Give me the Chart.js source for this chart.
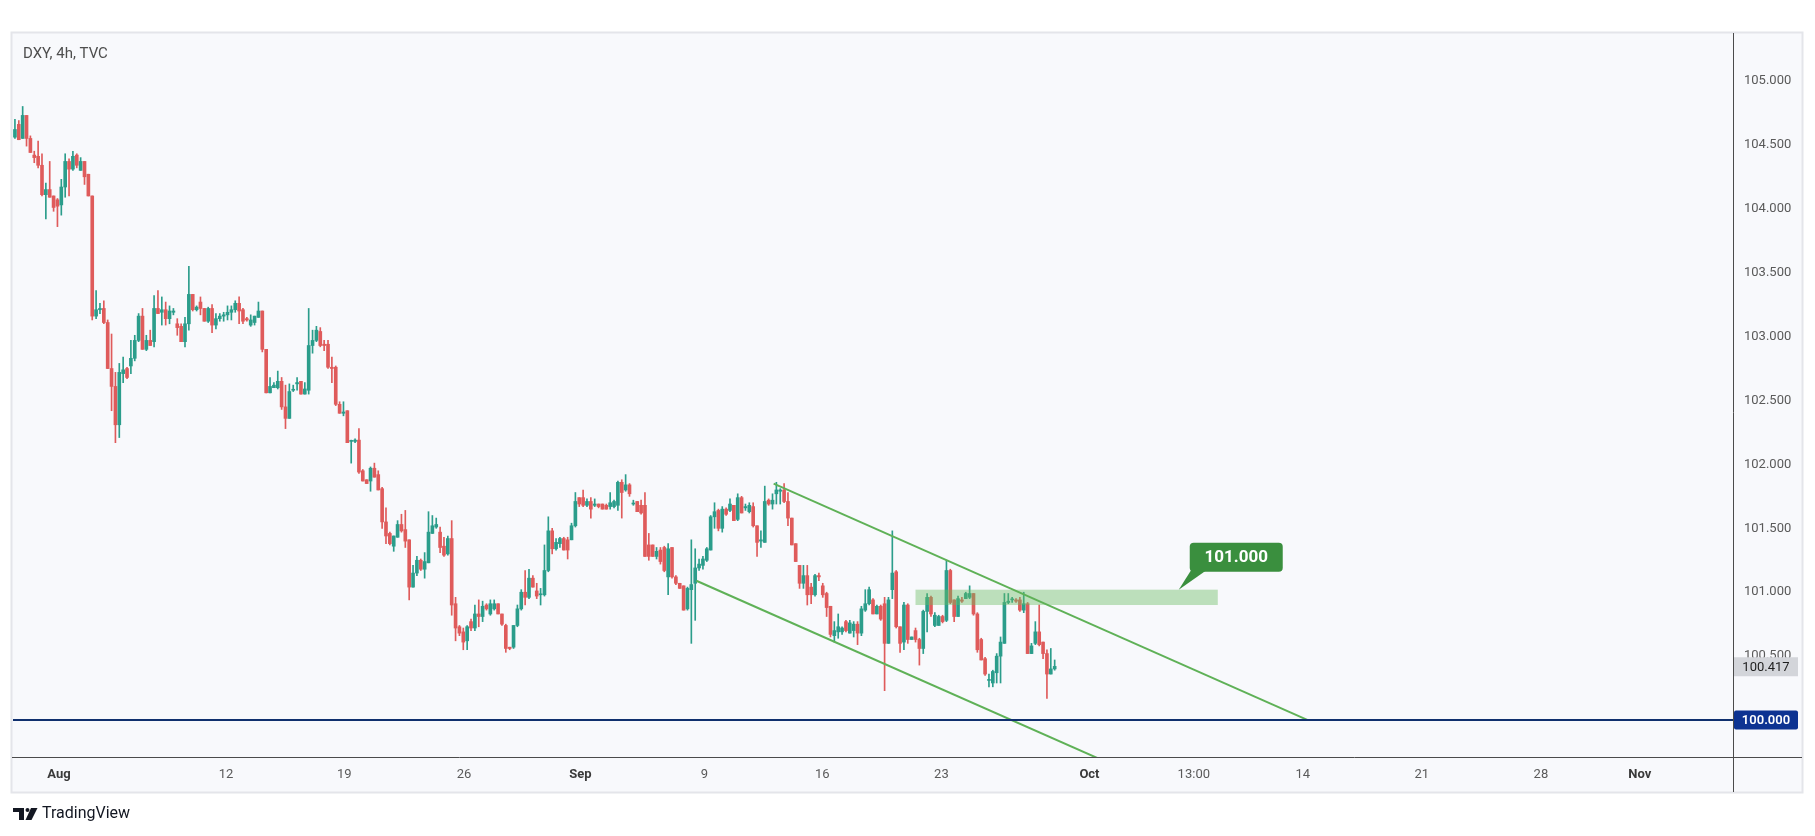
<!DOCTYPE html>
<html><head><meta charset="utf-8">
<script src="https://cdn.jsdelivr.net/npm/chart.js@4.4.1/dist/chart.umd.min.js"></script>
<style>html,body{margin:0;padding:0;background:#fff;overflow:hidden}#wrap{width:1815px;height:836px;position:relative}</style>
</head><body><div id="wrap"><canvas id="c" width="1815" height="836"></canvas></div>
<script>
// ---- DXY 4h candles ----
const opens = [
104.56,104.66,104.55,104.73,104.55,104.42,104.41,104.34,104.11,104.15,
104.10,104.07,104.03,104.17,104.37,104.31,104.42,104.30,104.37,104.27,
104.10,103.16,103.21,103.22,103.11,102.75,102.61,102.31,102.71,102.75,
102.77,102.83,102.97,103.16,102.90,102.97,102.96,103.22,103.19,103.21,
103.14,103.19,103.10,103.08,102.96,103.10,103.33,103.21,103.27,103.22,
103.12,103.22,103.09,103.14,103.16,103.17,103.19,103.21,103.26,103.21,
103.14,103.09,103.11,103.15,103.20,102.90,102.56,102.60,102.60,102.65,
102.45,102.36,102.58,102.63,102.65,102.55,102.58,102.93,102.97,103.04,
102.94,102.94,102.76,102.76,102.47,102.40,102.42,102.18,102.18,102.19,
101.95,101.88,101.87,101.97,101.92,101.81,101.55,101.46,101.36,101.43,
101.53,101.49,101.41,101.04,101.15,101.25,101.18,101.23,101.46,101.51,
101.47,101.36,101.30,101.42,100.91,100.73,100.69,100.62,100.77,100.72,
100.83,100.81,100.90,100.83,100.87,100.91,100.83,100.74,100.57,100.57,
100.74,100.87,101.00,100.96,101.11,101.01,100.98,100.98,101.17,101.48,
101.34,101.38,101.42,101.41,101.41,101.52,101.74,101.74,101.68,101.71,
101.68,101.69,101.69,101.68,101.67,101.67,101.68,101.86,101.80,101.84,
101.69,101.71,101.68,101.68,101.37,101.37,101.28,101.33,101.35,101.12,
101.35,101.12,101.07,101.05,100.87,101.02,101.07,101.19,101.21,101.25,
101.33,101.59,101.64,101.50,101.65,101.64,101.68,101.57,101.74,101.66,
101.63,101.67,101.52,101.40,101.39,101.72,101.69,101.77,101.79,101.80,
101.71,101.58,101.38,101.21,101.07,101.13,101.04,100.98,101.13,101.05,
100.99,100.89,100.66,100.69,100.69,100.77,100.68,100.70,100.75,100.68,
100.86,100.91,100.94,100.83,100.89,100.91,100.60,101.02,101.16,100.73,
100.61,100.90,100.63,100.70,100.63,100.56,100.85,100.96,100.74,100.74,
100.81,100.78,101.17,100.94,100.81,100.94,100.95,100.96,100.99,100.83,
100.63,100.48,100.31,100.29,100.37,100.50,100.60,100.92,100.94,100.94,
100.94,100.86,100.91,100.52,100.60,100.69,100.61,100.52,100.36,100.40];
const highs = [
104.70,104.69,104.80,104.73,104.57,104.45,104.53,104.43,104.20,104.37,
104.10,104.08,104.23,104.43,104.39,104.45,104.43,104.40,104.37,104.27,
104.10,103.36,103.26,103.28,103.13,103.02,102.72,102.79,102.84,102.76,
102.97,103.01,103.18,103.22,103.01,103.05,103.32,103.36,103.31,103.27,
103.24,103.22,103.14,103.10,103.15,103.55,103.33,103.24,103.31,103.22,
103.23,103.25,103.18,103.18,103.19,103.24,103.24,103.28,103.31,103.22,
103.15,103.17,103.16,103.27,103.20,102.90,102.68,102.64,102.73,102.68,
102.62,102.63,102.62,102.68,102.65,102.64,103.22,103.05,103.08,103.07,
102.97,102.97,102.84,102.77,102.49,102.49,102.42,102.19,102.20,102.28,
101.96,101.88,101.98,102.01,101.95,101.82,101.66,101.47,101.44,101.56,
101.61,101.64,101.41,101.21,101.28,101.26,101.31,101.63,101.60,101.58,
101.51,101.43,101.44,101.56,100.96,100.74,100.72,100.74,100.79,100.90,
100.94,100.93,100.91,100.94,100.94,100.91,100.83,100.75,100.57,100.74,
100.90,101.02,101.17,101.18,101.13,101.07,101.03,101.37,101.59,101.50,
101.42,101.43,101.43,101.43,101.54,101.78,101.74,101.80,101.73,101.74,
101.73,101.69,101.69,101.69,101.78,101.72,101.87,101.88,101.92,101.85,
101.72,101.71,101.72,101.78,101.46,101.37,101.35,101.35,101.36,101.38,
101.35,101.13,101.07,101.05,101.04,101.41,101.34,101.26,101.28,101.35,
101.60,101.70,101.65,101.67,101.66,101.73,101.68,101.77,101.75,101.69,
101.70,101.70,101.52,101.48,101.83,101.73,101.77,101.86,101.81,101.85,
101.78,101.58,101.38,101.21,101.21,101.21,101.07,101.14,101.15,101.07,
101.00,100.89,100.77,100.83,100.73,100.78,100.78,100.77,100.77,100.89,
101.02,101.04,100.95,100.90,100.90,100.96,100.96,101.48,101.17,100.73,
100.92,100.91,100.65,100.72,100.64,100.86,100.99,100.97,100.84,100.82,
100.82,101.25,101.18,100.94,100.97,100.96,101.00,101.05,100.99,100.84,
100.64,100.49,100.36,100.39,100.52,100.65,100.99,100.99,100.96,100.95,
100.96,101.00,100.92,100.60,100.77,100.90,100.61,100.55,100.56,100.47];
const lows = [
104.55,104.54,104.55,104.49,104.44,104.36,104.32,104.10,103.92,104.09,
103.98,103.86,103.95,104.09,104.10,104.30,104.32,104.30,104.19,104.10,
103.13,103.14,103.18,103.10,102.75,102.42,102.17,102.21,102.64,102.67,
102.71,102.81,102.96,102.90,102.89,102.93,102.92,103.18,103.09,103.09,
103.10,103.17,103.01,102.96,102.92,103.05,103.20,103.20,103.17,103.12,
103.11,103.03,103.06,103.12,103.12,103.13,103.13,103.19,103.10,103.10,
103.12,103.08,103.09,103.15,102.88,102.56,102.56,102.60,102.59,102.43,
102.28,102.36,102.57,102.58,102.55,102.55,102.55,102.87,102.96,102.92,
102.89,102.75,102.64,102.46,102.40,102.38,102.17,102.01,102.17,101.93,
101.87,101.85,101.79,101.90,101.80,101.50,101.38,101.37,101.32,101.43,
101.47,101.35,100.94,101.04,101.13,101.17,101.11,101.23,101.46,101.50,
101.31,101.28,101.29,100.82,100.62,100.66,100.55,100.55,100.70,100.70,
100.73,100.77,100.86,100.82,100.86,100.83,100.74,100.53,100.55,100.56,
100.73,100.86,100.90,100.95,101.04,100.95,100.90,100.97,101.16,101.30,
101.33,101.35,101.33,101.26,101.41,101.51,101.67,101.67,101.67,101.58,
101.67,101.66,101.65,101.65,101.65,101.66,101.64,101.58,101.79,101.75,
101.68,101.63,101.61,101.28,101.25,101.28,101.26,101.22,101.16,100.98,
101.11,101.06,101.03,100.86,100.86,100.60,100.78,101.17,101.18,101.24,
101.33,101.50,101.48,101.47,101.60,101.63,101.56,101.56,101.62,101.64,
101.62,101.51,101.28,101.35,101.39,101.68,101.65,101.69,101.69,101.70,
101.52,101.37,101.24,101.03,101.03,100.90,100.91,100.97,101.09,100.96,
100.81,100.65,100.61,100.64,100.67,100.69,100.68,100.65,100.59,100.66,
100.85,100.90,100.83,100.83,100.78,100.23,100.60,100.95,100.72,100.53,
100.55,100.60,100.63,100.61,100.43,100.52,100.69,100.81,100.73,100.74,
100.76,100.77,100.91,100.77,100.81,100.92,100.95,100.95,100.82,100.53,
100.47,100.35,100.26,100.26,100.29,100.29,100.60,100.91,100.92,100.92,
100.85,100.84,100.52,100.52,100.59,100.58,100.48,100.17,100.36,100.39];
const closes = [
104.62,104.54,104.73,104.55,104.44,104.40,104.34,104.11,104.15,104.09,
104.01,104.02,104.17,104.37,104.31,104.41,104.34,104.37,104.25,104.10,
103.16,103.21,103.22,103.11,102.75,102.61,102.31,102.72,102.74,102.68,
102.83,102.97,103.16,102.90,102.97,102.93,103.22,103.18,103.21,103.14,
103.20,103.20,103.07,102.96,103.10,103.33,103.21,103.23,103.22,103.12,
103.22,103.09,103.14,103.16,103.17,103.19,103.21,103.26,103.20,103.12,
103.13,103.13,103.16,103.20,102.90,102.56,102.61,102.62,102.65,102.45,
102.36,102.57,102.58,102.64,102.55,102.59,102.93,102.97,103.05,102.93,
102.93,102.76,102.75,102.47,102.40,102.41,102.17,102.18,102.19,101.94,
101.87,101.85,101.97,101.90,101.80,101.55,101.44,101.38,101.44,101.53,
101.48,101.40,101.04,101.15,101.25,101.18,101.24,101.47,101.52,101.53,
101.35,101.29,101.42,100.90,100.72,100.68,100.61,100.73,100.72,100.83,
100.81,100.89,100.87,100.91,100.91,100.83,100.75,100.56,100.56,100.74,
100.87,101.00,100.96,101.11,101.04,100.97,100.98,101.17,101.48,101.34,
101.39,101.42,101.33,101.33,101.52,101.71,101.69,101.68,101.71,101.65,
101.69,101.67,101.65,101.65,101.70,101.71,101.86,101.78,101.84,101.77,
101.69,101.63,101.62,101.28,101.28,101.28,101.32,101.24,101.17,101.34,
101.12,101.07,101.03,100.86,101.03,101.06,101.19,101.22,101.26,101.34,
101.59,101.63,101.50,101.65,101.61,101.69,101.56,101.74,101.62,101.67,
101.68,101.52,101.39,101.41,101.71,101.69,101.72,101.80,101.80,101.71,
101.58,101.37,101.24,101.07,101.13,100.98,100.98,101.13,101.12,100.98,
100.88,100.67,100.70,100.73,100.72,100.70,100.76,100.75,100.68,100.87,
100.91,101.02,100.83,100.89,100.79,100.60,100.94,101.15,100.73,100.60,
100.90,100.63,100.65,100.63,100.56,100.85,100.96,100.83,100.82,100.81,
100.77,101.17,100.92,100.81,100.95,100.93,100.99,100.99,100.83,100.55,
100.47,100.36,100.31,100.38,100.50,100.61,100.92,100.93,100.94,100.93,
100.86,100.91,100.52,100.58,100.69,100.59,100.52,100.36,100.40,100.42];

// ---- axes ----
const priceTicks = [100.0,100.5,101.0,101.5,102.0,102.5,103.0,103.5,104.0,104.5,105.0];
const priceRange = [99.711, 105.367];
const barRange = [-0.5, 444.5];               // bar index range shown (incl. empty future)
const dateTickBars = [11.4,54.6,85.2,116.2,146.3,178.4,208.9,239.7,278.0,305.0,333.2,364.0,394.8,420.4];
const dateTickLabels = ['Aug','12','19','26','Sep','9','16','23','Oct','13:00','14','21','28','Nov'];
const monthLabels = ['Aug','Sep','Oct','Nov'];

// ---- drawings ----
const channelUpper = [{x:196.3,y:101.85},{x:334.5,y:100.0}];
const channelLower = [{x:176.3,y:101.09},{x:290.0,y:99.57}];
const zoneBars = [233.0, 311.2];
const zonePrices = [100.90, 101.02];
const calloutPoint = {x:301.1, y:101.02};
const calloutText = '101.000';
const supportLevel = 100.0;
const lastPrice = 100.417;
const titleText = 'DXY, 4h, TVC';

const UP = '#2b9d8b', DN = '#df5b5b', GREEN = '#5fb157';
const NAVY_LINE = '#10306e', NAVY_BOX = '#0d3392';
const FONT = 'Roboto, "Open Sans", sans-serif';

const idx = opens.map((_, i) => i);
const candleColors = idx.map(i => closes[i] >= opens[i] ? UP : DN);

const panel = {l:12, t:33, r:1802, b:792};

const bgPlugin = {
  id: 'bg',
  beforeDraw(chart) {
    const c = chart.ctx;
    c.save();
    c.fillStyle = '#ffffff';
    c.fillRect(0, 0, chart.width, chart.height);
    c.fillStyle = '#f8f9fc';
    c.fillRect(panel.l, panel.t, panel.r - panel.l, panel.b - panel.t);
    c.strokeStyle = '#e4e5ea';
    c.lineWidth = 2;
    c.strokeRect(panel.l - 0.5, panel.t - 0.5, panel.r - panel.l + 1, panel.b - panel.t + 1);
    c.restore();
  }
};

const overlayPlugin = {
  id: 'overlay',
  afterDatasetDraw(chart, args) {
    if (args.index !== 1) return; // after candle bodies: draw the zone
    const x = chart.scales.x, y = chart.scales.y, c = chart.ctx, a = chart.chartArea;
    c.save();
    c.beginPath(); c.rect(a.left, a.top, a.right - a.left, a.bottom - a.top); c.clip();
    const x0 = x.getPixelForValue(zoneBars[0]), x1 = x.getPixelForValue(zoneBars[1]);
    const y0 = y.getPixelForValue(zonePrices[1]), y1 = y.getPixelForValue(zonePrices[0]);
    c.fillStyle = 'rgba(104,188,98,0.42)';
    c.fillRect(x0, y0, x1 - x0, y1 - y0);
    c.restore();
  },
  afterDraw(chart) {
    const x = chart.scales.x, y = chart.scales.y, c = chart.ctx, a = chart.chartArea;
    c.save();
    // frame lines of the panel
    c.strokeStyle = '#4b4b4b'; c.lineWidth = 1;
    c.beginPath();
    c.moveTo(a.right + 0.5, panel.t); c.lineTo(a.right + 0.5, panel.b);
    c.moveTo(panel.l, a.bottom + 0.5); c.lineTo(panel.r, a.bottom + 0.5);
    c.stroke();

    // title
    c.fillStyle = '#4e4e4e';
    c.font = '15px ' + FONT;
    c.textBaseline = 'middle'; c.textAlign = 'left';
    c.fillText(titleText, 23, 54);

    // last price label
    const ly = y.getPixelForValue(lastPrice);
    c.fillStyle = '#d3d5da';
    c.fillRect(a.right + 1, ly - 9.5, 64, 19);
    c.fillStyle = '#1e1e1e';
    c.font = '13px ' + FONT; c.textAlign = 'center';
    c.fillText(lastPrice.toFixed(3), a.right + 33, ly + 0.5);

    // support label
    const sy = y.getPixelForValue(supportLevel);
    c.fillStyle = NAVY_BOX;
    roundRect(c, a.right + 1, sy - 9.5, 64, 19, 2); c.fill();
    c.fillStyle = '#ffffff';
    c.font = '600 13px ' + FONT;
    c.fillText(supportLevel.toFixed(3), a.right + 33, sy + 0.5);

    // callout
    const ax = x.getPixelForValue(calloutPoint.x), ay = y.getPixelForValue(calloutPoint.y);
    c.fillStyle = '#3a8f3e';
    roundRect(c, ax + 11, ay - 47, 93, 29, 4); c.fill();
    c.beginPath();
    c.moveTo(ax + 12, ay - 19); c.lineTo(ax + 27, ay - 19); c.lineTo(ax, ay); c.closePath(); c.fill();
    c.fillStyle = '#ffffff';
    c.font = 'bold 17px ' + FONT; c.textAlign = 'center';
    c.fillText(calloutText, ax + 57.5, ay - 32);

    // TradingView logo
    c.fillStyle = '#131722';
    c.fillRect(13, 808, 11, 4);
    c.fillRect(19, 808, 5, 12);
    c.beginPath(); c.arc(27.5, 810, 2, 0, Math.PI * 2); c.fill();
    c.beginPath();
    c.moveTo(31, 808); c.lineTo(37.5, 808); c.lineTo(31.5, 820); c.lineTo(25.5, 820); c.closePath(); c.fill();
    c.font = '16px ' + FONT; c.textAlign = 'left'; c.textBaseline = 'middle';
    c.fillText('TradingView', 42, 814);
    c.restore();
  }
};

function roundRect(c, x, y, w, h, r) {
  c.beginPath();
  c.moveTo(x + r, y); c.lineTo(x + w - r, y); c.quadraticCurveTo(x + w, y, x + w, y + r);
  c.lineTo(x + w, y + h - r); c.quadraticCurveTo(x + w, y + h, x + w - r, y + h);
  c.lineTo(x + r, y + h); c.quadraticCurveTo(x, y + h, x, y + h - r);
  c.lineTo(x, y + r); c.quadraticCurveTo(x, y, x + r, y); c.closePath();
}

new Chart(document.getElementById('c'), {
  type: 'bar',
  data: {
    datasets: [
      { label: 'wicks', data: idx.map(i => ({x: i, y: [lows[i], highs[i]]})),
        backgroundColor: candleColors, barThickness: 1, grouped: false, order: 6 },
      { label: 'bodies', data: idx.map(i => ({x: i, y: [opens[i], closes[i]]})),
        backgroundColor: candleColors, barThickness: 3, minBarLength: 1, grouped: false, order: 5 },
      { type: 'line', label: 'upper', data: channelUpper, borderColor: GREEN, borderWidth: 2,
        pointRadius: 0, order: 2 },
      { type: 'line', label: 'lower', data: channelLower, borderColor: GREEN, borderWidth: 2,
        pointRadius: 0, order: 2 },
      { type: 'line', label: 'support', data: [{x: barRange[0], y: supportLevel}, {x: barRange[1], y: supportLevel}],
        borderColor: NAVY_LINE, borderWidth: 2, pointRadius: 0, order: 1 }
    ]
  },
  options: {
    responsive: false, animation: false, devicePixelRatio: 1,
    layout: { padding: { left: 13, top: 34, right: 13, bottom: 45 } },
    plugins: { legend: { display: false }, tooltip: { enabled: false } },
    scales: {
      x: {
        type: 'linear', min: barRange[0], max: barRange[1], offset: false, position: 'bottom',
        grid: { display: false, drawTicks: false }, border: { display: false },
        afterBuildTicks: s => { s.ticks = dateTickBars.map(v => ({value: v})); },
        afterFit: s => { s.height = 34; },
        ticks: {
          autoSkip: false, maxRotation: 0, padding: 10,
          callback: (v, i) => dateTickLabels[i],
          font: ctx => ({ family: FONT, size: 13,
            weight: monthLabels.includes(dateTickLabels[ctx.index]) ? 'bold' : 'normal' }),
          color: ctx => monthLabels.includes(dateTickLabels[ctx.index]) ? '#3a3a3a' : '#5a5a5a'
        }
      },
      y: {
        type: 'linear', min: priceRange[0], max: priceRange[1], position: 'right',
        grid: { display: false, drawTicks: false }, border: { display: false },
        afterBuildTicks: s => { s.ticks = priceTicks.map(v => ({value: v})); },
        afterFit: s => { s.width = 69; },
        ticks: { padding: 11, callback: v => Number(v).toFixed(3),
          font: { family: FONT, size: 13 }, color: '#5a5a5a' }
      }
    }
  },
  plugins: [bgPlugin, overlayPlugin]
});
</script>
</body></html>
